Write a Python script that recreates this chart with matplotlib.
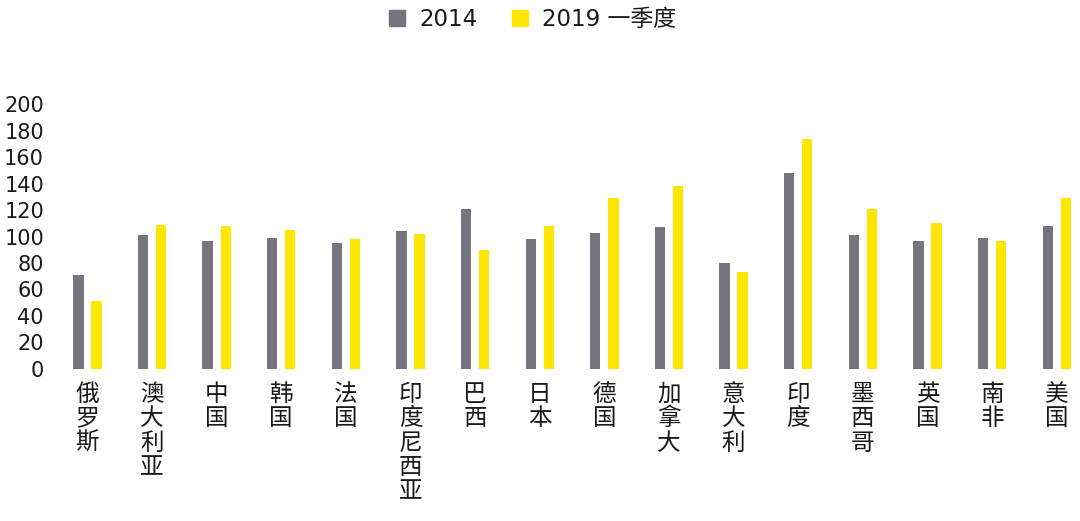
import numpy as np
import matplotlib.pyplot as plt
from matplotlib.patches import Patch

plt.rcParams['font.family'] = ['DejaVu Sans', 'Noto Sans CJK SC']

countries = ['俄罗斯', '澳大利亚', '中国', '韩国', '法国', '印度尼西亚', '巴西', '日本',
             '德国', '加拿大', '意大利', '印度', '墨西哥', '英国', '南非', '美国']
values_2014 = [71, 101, 97, 99, 95, 104, 121, 98, 103, 107, 80, 148, 101, 97, 99, 108]
values_2019q1 = [51, 109, 108, 105, 98, 102, 90, 108, 129, 138, 73, 174, 121, 110, 97, 129]
series_names = ['2014', '2019 一季度']

gray = '#75747f'
yellow = '#ffe600'

fig = plt.figure(figsize=(10.8, 5.21), dpi=100)
ax = fig.add_axes([0.051, 0.292, 0.949, 0.508])

x = np.arange(len(countries))
ax.bar(x - 0.14, values_2014, width=0.16, color=gray)
ax.bar(x + 0.14, values_2019q1, width=0.16, color=yellow)

ax.set_ylim(0, 200)
ax.set_yticks(range(0, 201, 20))
ax.set_xlim(-0.5, 15.36)
ax.set_xticks(x)
ax.set_xticklabels(['\n'.join(c) for c in countries], family=['Noto Sans CJK SC', 'DejaVu Sans'],
                   fontsize=17, linespacing=1.08, va='top', color='#1a1a1a')
ax.tick_params(axis='both', length=0)
ax.tick_params(axis='x', pad=10)
ax.tick_params(axis='y', labelsize=15, labelcolor='#1a1a1a', pad=8)
for s in ax.spines.values():
    s.set_visible(False)

handles = [Patch(color=gray), Patch(color=yellow)]
leg = fig.legend(handles, series_names, loc='center', bbox_to_anchor=(0.493, 0.962), ncol=2,
                 frameon=False, handlelength=0.72, handleheight=0.72, handletextpad=0.6,
                 columnspacing=1.5, prop={'family': ['DejaVu Sans', 'Noto Sans CJK SC'], 'size': 16.5})
for t in leg.get_texts():
    t.set_color('#1a1a1a')

fig.savefig('out.png', dpi=100)
